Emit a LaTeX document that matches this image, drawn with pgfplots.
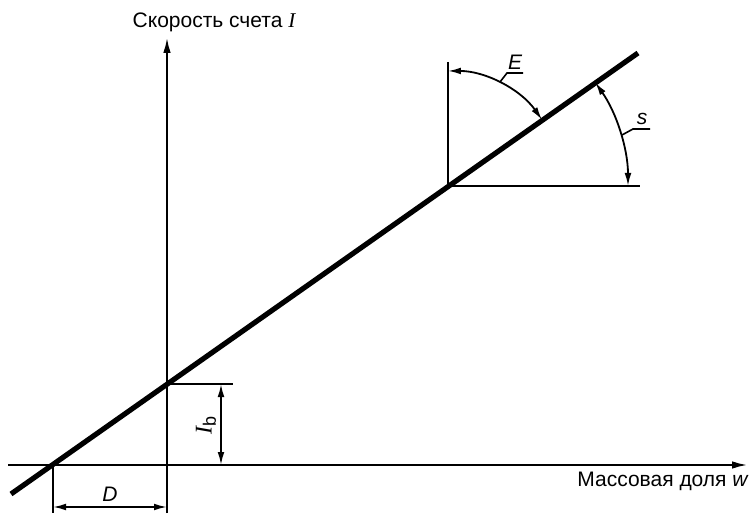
\documentclass[border=0pt]{standalone}
\usepackage{fontspec}
\setmainfont{Liberation Sans}
\newfontfamily\serif{Liberation Serif}
\usepackage{pgfplots}
\pgfplotsset{compat=1.18}
\usetikzlibrary{arrows.meta}
\begin{document}
\begin{tikzpicture}[font=\fontsize{10.5pt}{12pt}\selectfont]
\begin{axis}[width=375pt, height=256.5pt, scale only axis,
  xmin=0, xmax=750, ymin=0, ymax=513, hide axis, clip=false]
\path (axis cs:0,0) rectangle (axis cs:750,513);
% axes
\addplot[black, line width=1.2pt, -{Latex[length=8pt,width=3.8pt]}] coordinates {(167,0) (167,476)};
\addplot[black, line width=1.2pt, -{Latex[length=8pt,width=3.8pt]}] coordinates {(8,48) (748,48)};
% main line
\addplot[black, line width=2.6pt] coordinates {(11,19) (638,460)};
% corner lines
\addplot[black, line width=1.2pt] coordinates {(448,451) (448,327) (640,327)};
% extension lines
\addplot[black, line width=1.1pt] coordinates {(53,48) (53,0)};
\addplot[black, line width=0.9pt] coordinates {(167,129) (233,129)};
% dimension arrows
\addplot[black, line width=0.9pt, {Latex[length=6.5pt,width=3.4pt]}-{Latex[length=6.5pt,width=3.4pt]}] coordinates {(53,6) (167,6)};
\addplot[black, line width=0.9pt, {Latex[length=6.5pt,width=3.4pt]}-{Latex[length=6.5pt,width=3.4pt]}] coordinates {(221,129) (221,48)};
% arcs
\draw[black, line width=0.9pt, {Latex[length=6.5pt,width=3.4pt]}-{Latex[length=6.5pt,width=3.4pt]}]
  (axis cs:542.0,393.2) arc[start angle=35.12, end angle=90, radius=57.5pt];
\draw[black, line width=0.9pt, {Latex[length=6.5pt,width=3.4pt]}-{Latex[length=6.5pt,width=3.4pt]}]
  (axis cs:628,327) arc[start angle=0, end angle=35.12, radius=90pt];
% leaders
\addplot[black, line width=0.8pt] coordinates {(500,431) (507,440) (523,440)};
\addplot[black, line width=0.8pt] coordinates {(622,378) (633,384) (650,384)};
% labels
\node at (axis cs:515,451) {\itshape E};
\node at (axis cs:642,394) {\itshape s};
\node at (axis cs:110,19) {\itshape D};
\node[rotate=90] at (axis cs:206,88) {{\fontsize{12pt}{13pt}\selectfont\serif\itshape I}\raisebox{-0.4ex}{\fontsize{9pt}{10pt}\selectfont b}};
\node at (axis cs:214,491) {Скорость счета {\serif\itshape I}};
\node[anchor=east, inner sep=0pt] at (axis cs:748,32) {Массовая доля {\itshape w}};
\end{axis}
\end{tikzpicture}
\end{document}
